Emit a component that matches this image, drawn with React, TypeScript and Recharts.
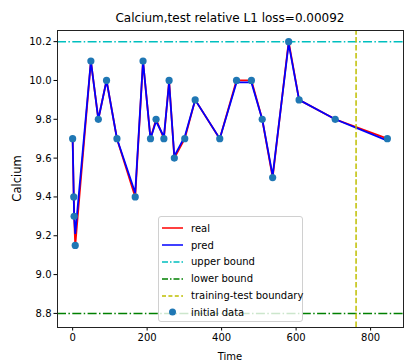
import React from "react";
import {
  ComposedChart,
  Line,
  Scatter,
  XAxis,
  YAxis,
  ReferenceLine,
  Legend,
} from "recharts";

// sample times and values
const times = [0, 3, 4, 7, 49, 69, 91, 119, 168, 189, 209, 224, 245, 259, 273, 301, 329, 395, 440, 480, 509, 537, 580, 608, 705, 845];
const realValues = [9.7, 9.4, 9.3, 9.15, 10.1, 9.8, 10.0, 9.7, 9.4, 10.1, 9.7, 9.8, 9.7, 10.0, 9.6, 9.7, 9.9, 9.7, 10.0, 10.0, 9.8, 9.5, 10.2, 9.9, 9.8, 9.7];
const predValues = [9.7, 9.4, 9.3, 9.21, 10.1, 9.8, 10.0, 9.7, 9.42, 10.1, 9.7, 9.79, 9.71, 9.99, 9.61, 9.71, 9.9, 9.7, 9.99, 9.99, 9.8, 9.51, 10.19, 9.9, 9.8, 9.69];

const xTicks = [0, 200, 400, 600, 800];
const yTicks = [8.8, 9.0, 9.2, 9.4, 9.6, 9.8, 10.0, 10.2];
const upperBound = 10.2;
const lowerBound = 8.8;
const boundaryTime = 761;

const data = times.map((t, i) => ({ t, real: realValues[i], pred: predValues[i] }));

const FONT = "'DejaVu Sans', sans-serif";

const legendItems = [
  { label: "real", color: "#ff0000", dash: undefined as string | undefined, kind: "line" },
  { label: "pred", color: "#0000ff", dash: undefined, kind: "line" },
  { label: "upper bound", color: "#00bfbf", dash: "6 2 1.5 2", kind: "line" },
  { label: "lower bound", color: "#008000", dash: "6 2 1.5 2", kind: "line" },
  { label: "training-test boundary", color: "#bfbf00", dash: "4 2.4", kind: "line" },
  { label: "initial data", color: "#1f77b4", dash: undefined, kind: "dot" },
];

function renderLegend() {
  return (
    <div
      style={{
        width: 145,
        height: 106,
        border: "1px solid #d0d0d0",
        borderRadius: 3,
        background: "rgba(255,255,255,0.8)",
        fontFamily: FONT,
        fontSize: 10,
        color: "#000",
        paddingTop: 3,
        boxSizing: "border-box",
        whiteSpace: "nowrap",
      }}
    >
      {legendItems.map((it) => (
        <div key={it.label} style={{ display: "flex", alignItems: "center", height: 16.8 }}>
          <svg width={30} height={10} style={{ marginLeft: 2, flex: "none" }}>
            {it.kind === "line" ? (
              <line x1={1} y1={5} x2={22} y2={5} stroke={it.color} strokeWidth={1.5} strokeDasharray={it.dash} />
            ) : (
              <circle cx={11.5} cy={5} r={3.5} fill={it.color} />
            )}
          </svg>
          <span>{it.label}</span>
        </div>
      ))}
    </div>
  );
}

const dotShape = (props: any) => <circle cx={props.cx} cy={props.cy} r={3.6} fill="#1f77b4" />;

export default function App() {
  return (
    <div style={{ position: "absolute", left: 0, top: 0, width: 406, height: 361, background: "#fff" }}>
      <div
        style={{
          position: "absolute",
          left: 57,
          width: 346,
          top: 11,
          textAlign: "center",
          fontFamily: FONT,
          fontSize: 12,
          color: "#000",
        }}
      >
        Calcium,test relative L1 loss=0.00092
      </div>
      <ComposedChart width={406} height={361} data={data} margin={{ top: 30, right: 3, bottom: 0, left: 0 }}>
        <XAxis
          dataKey="t"
          type="number"
          domain={[-42, 887]}
          ticks={xTicks}
          allowDataOverflow
          height={34}
          axisLine={false}
          tickSize={3.5}
          tickMargin={3}
          tickLine={{ stroke: "#000" }}
          tick={{ fontSize: 10, fill: "#000", fontFamily: FONT }}
          label={{ value: "Time", position: "insideBottom", offset: 1, style: { fontSize: 10, fill: "#000", fontFamily: FONT } }}
        />
        <YAxis
          type="number"
          domain={[8.73, 10.26]}
          ticks={yTicks}
          allowDataOverflow
          width={57}
          axisLine={false}
          tickSize={3.5}
          tickMargin={2}
          tickLine={{ stroke: "#000" }}
          tickFormatter={(v: number) => v.toFixed(1)}
          tick={{ fontSize: 10, fill: "#000", fontFamily: FONT }}
          label={{
            value: "Calcium",
            angle: -90,
            position: "insideLeft",
            offset: 17,
            style: { fontSize: 11.5, fill: "#000", fontFamily: FONT, textAnchor: "middle" },
          }}
        />
        <Scatter dataKey="real" fill="#1f77b4" shape={dotShape} isAnimationActive={false} />
        <Line type="linear" dataKey="real" stroke="#ff0000" strokeWidth={1.8} dot={false} activeDot={false} isAnimationActive={false} />
        <Line type="linear" dataKey="pred" stroke="#0000ff" strokeWidth={1.8} dot={false} activeDot={false} isAnimationActive={false} />
        <ReferenceLine y={upperBound} stroke="#00bfbf" strokeWidth={1.5} strokeDasharray="9 2.4 1.5 2.4" />
        <ReferenceLine y={lowerBound} stroke="#008000" strokeWidth={1.5} strokeDasharray="9 2.4 1.5 2.4" />
        <ReferenceLine x={boundaryTime} stroke="#bfbf00" strokeWidth={1.5} strokeDasharray="5.5 2.4" />
        <Legend
          layout="vertical"
          align="center"
          verticalAlign="middle"
          content={renderLegend}
          wrapperStyle={{ position: "absolute", left: 158, top: 216, width: 145, height: 106 }}
        />
      </ComposedChart>
      <div
        style={{
          position: "absolute",
          left: 56.5,
          top: 29.5,
          width: 347,
          height: 298,
          border: "1px solid #222",
          boxSizing: "border-box",
          pointerEvents: "none",
        }}
      />
    </div>
  );
}
